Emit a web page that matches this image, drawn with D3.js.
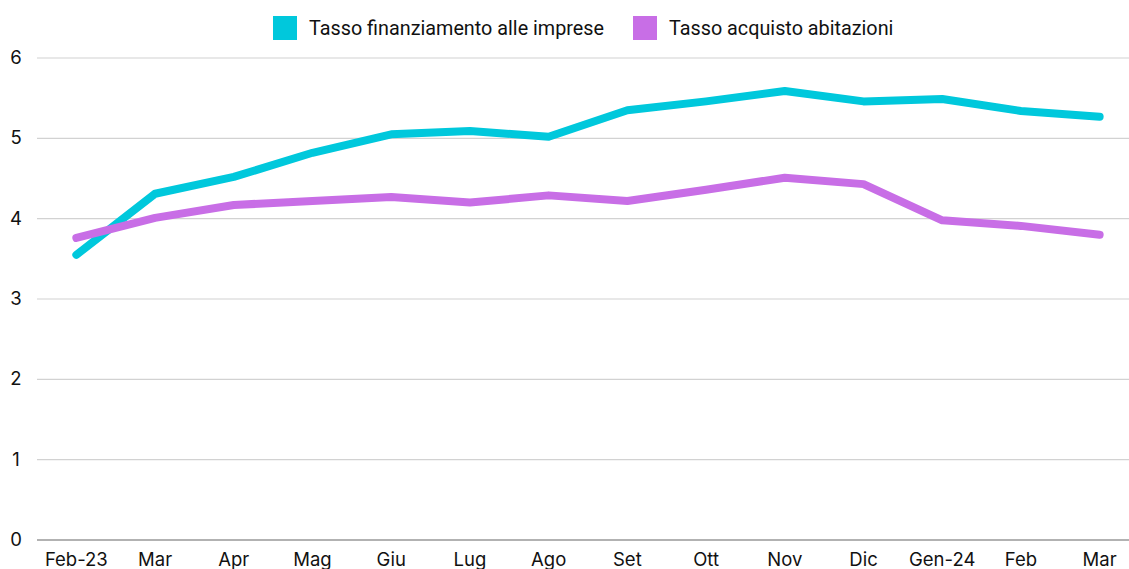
<!DOCTYPE html>
<html>
<head>
<meta charset="utf-8">
<script src="https://cdn.jsdelivr.net/npm/d3@7"></script>
<style>
body { margin: 0; background: #fff; }
svg text { font-family: Inter, "Noto Sans", sans-serif; fill: #111; }
</style>
</head>
<body>
<div id="chart"></div>
<script>
const months = ["Feb-23", "Mar", "Apr", "Mag", "Giu", "Lug", "Ago", "Set", "Ott", "Nov", "Dic", "Gen-24", "Feb", "Mar"]
const imprese = [3.55, 4.31, 4.52, 4.82, 5.05, 5.09, 5.02, 5.35, 5.46, 5.59, 5.46, 5.49, 5.34, 5.27]
const abitazioni = [3.76, 4.01, 4.17, 4.22, 4.27, 4.20, 4.29, 4.22, 4.36, 4.51, 4.43, 3.98, 3.91, 3.80]
const yTicks = [0, 1, 2, 3, 4, 5, 6]
const seriesNames = ["Tasso finanziamento alle imprese", "Tasso acquisto abitazioni"]
const colors = ["#00c8dc", "#c86ee6"]

const width = 1129
const height = 569
const mLeft = 37, mRight = 1139, mTop = 58, mBottom = 540

const svg = d3.select("#chart")
    .append("svg")
    .attr("width", width)
    .attr("height", height)

const x = d3.scalePoint()
    .domain(d3.range(months.length))
    .range([mLeft, mRight])
    .padding(0.5)

const y = d3.scaleLinear()
    .domain([0, 6])
    .range([mBottom, mTop])

// gridlines
svg.append("g")
    .selectAll("line")
    .data(yTicks)
    .enter()
    .append("line")
    .attr("x1", mLeft)
    .attr("x2", width)
    .attr("y1", d => y(d))
    .attr("y2", d => y(d))
    .attr("stroke", d => d == 0 ? "#666" : "#d2d2d2")
    .attr("stroke-width", 1.2)

svg.append("g")
    .selectAll("text")
    .data(yTicks)
    .enter()
    .append("text")
    .attr("x", 16)
    .attr("y", d => y(d) + 6)
    .attr("text-anchor", "middle")
    .style("font-size", "18.5px")
    .text(d => d)

svg.append("g")
    .selectAll("text")
    .data(months)
    .enter()
    .append("text")
    .attr("x", (d, i) => x(i))
    .attr("y", 566)
    .attr("text-anchor", "middle")
    .style("font-size", "18.5px")
    .text(d => d)

const line = d3.line()
    .x((d, i) => x(i))
    .y(d => y(d))

;[imprese, abitazioni].forEach((s, k) => {
    svg.append("path")
        .datum(s)
        .attr("d", line)
        .attr("fill", "none")
        .attr("stroke", colors[k])
        .attr("stroke-width", 8)
        .attr("stroke-linecap", "round")
        .attr("stroke-linejoin", "round")
})

// legend
const legendX = [273, 633]
const legend = svg.append("g")
seriesNames.forEach((n, k) => {
    legend.append("rect")
        .attr("x", legendX[k])
        .attr("y", 16)
        .attr("width", 24)
        .attr("height", 24)
        .attr("fill", colors[k])
    legend.append("text")
        .attr("x", legendX[k] + 36)
        .attr("y", 35)
        .style("font-family", "Roboto, sans-serif")
        .style("font-size", "19.8px")
        .text(n)
})
</script>
</body>
</html>
